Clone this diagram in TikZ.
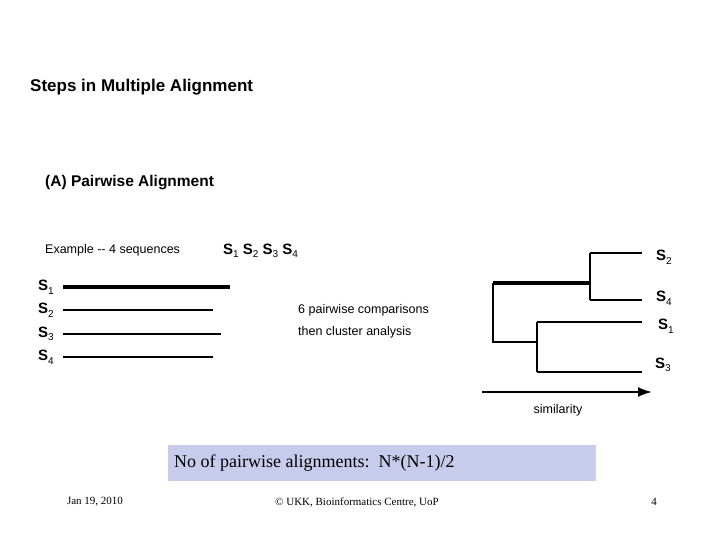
\documentclass[tikz,border=0pt]{standalone}
\usepackage{fontspec}
\usetikzlibrary{arrows.meta}
\setmainfont{Liberation Serif}
\newfontfamily\arialf{Liberation Sans}
\newcommand{\Ssub}[1]{S\raisebox{-0.45ex}{\fontsize{10}{10}\selectfont\mdseries #1}}
\begin{document}
\begin{tikzpicture}[x=1pt,y=-1pt,
  ln/.style={line width=2pt},
  lbl/.style={font=\arialf\bfseries\fontsize{15}{16}\selectfont,inner sep=0pt},
  tx/.style={font=\arialf\fontsize{12.5}{14}\selectfont,inner sep=0pt,anchor=west}]
\useasboundingbox (0,0) rectangle (720,540);
\node[font=\arialf\bfseries\fontsize{17}{19}\selectfont,anchor=west,inner sep=0pt] (title) at (30,87) {Steps in Multiple Alignment};
\node[font=\arialf\bfseries\fontsize{15.5}{17}\selectfont,anchor=west,inner sep=0pt] (A) at (45,183) {(A) Pairwise Alignment};
\node[tx] (ex) at (45,250) {Example -- 4 sequences};
\node[lbl,anchor=west] (exs) at (223,251) {\Ssub{1} \Ssub{2} \Ssub{3} \Ssub{4}};
% left sequences
\foreach \i/\y/\e/\w in {1/287/230/3.5pt,2/310/213/2pt,3/334/221/2pt,4/357/213/2pt}{
  \node[lbl,anchor=west] (L\i) at (38,\y) {\Ssub{\i}};
  \coordinate (a\i) at (63,\y); \coordinate (b\i) at (\e,\y);
  \draw[line width=\w] (a\i) -- (b\i);
}
\node[tx] (c1) at (298,310) {6 pairwise comparisons};
\node[tx] (c2) at (298,332) {then cluster analysis};
% tree
\coordinate (r) at (493,283); \coordinate (rb) at (493,342);
\coordinate (n1) at (590,283); \coordinate (n1t) at (590,253); \coordinate (n1b) at (590,300);
\coordinate (n2) at (537,342); \coordinate (n2t) at (537,322); \coordinate (n2b) at (537,372);
\coordinate (e2) at (642,253); \coordinate (e4) at (642,300);
\coordinate (e1) at (642,322); \coordinate (e3) at (642,372);
\draw[line width=3.5pt] (r) -- (n1);
\draw[ln] (r) -- (rb) -- (n2);
\draw[ln] (n1t) -- (n1b);
\draw[ln] (n1t) -- (e2); \draw[ln] (n1b) -- (e4);
\draw[ln] (n2t) -- (n2b);
\draw[ln] (n2t) -- (e1); \draw[ln] (n2b) -- (e3);
\node[lbl,anchor=west] (t2) at (656,257) {\Ssub{2}};
\node[lbl,anchor=west] (t4) at (656,298) {\Ssub{4}};
\node[lbl,anchor=west] (t1) at (658,326) {\Ssub{1}};
\node[lbl,anchor=west] (t3) at (655,365) {\Ssub{3}};
\coordinate (s0) at (482,392); \coordinate (s1) at (652,392);
\draw[ln,-{Latex[length=14pt,width=10pt]}] (s0) -- (s1);
\node[tx,anchor=center] (sim) at (558,410) {similarity};
% box
\node[fill={rgb,255:red,200;green,204;blue,236},minimum width=428,minimum height=36,inner sep=0pt,anchor=north west] (box) at (168,445) {};
\node[font=\fontsize{18}{20}\selectfont,anchor=west,inner sep=0pt] (bt) at (174,463) {No of pairwise alignments:\ \ N*(N-1)/2};
% footer
\node[font=\fontsize{11}{13}\selectfont] (f1) at (95,502) {Jan 19, 2010};
\node[font=\fontsize{11}{13}\selectfont] (f2) at (357,502) {© UKK, Bioinformatics Centre, UoP};
\node[font=\fontsize{11}{13}\selectfont] (f3) at (654,502) {4};
\end{tikzpicture}
\end{document}
